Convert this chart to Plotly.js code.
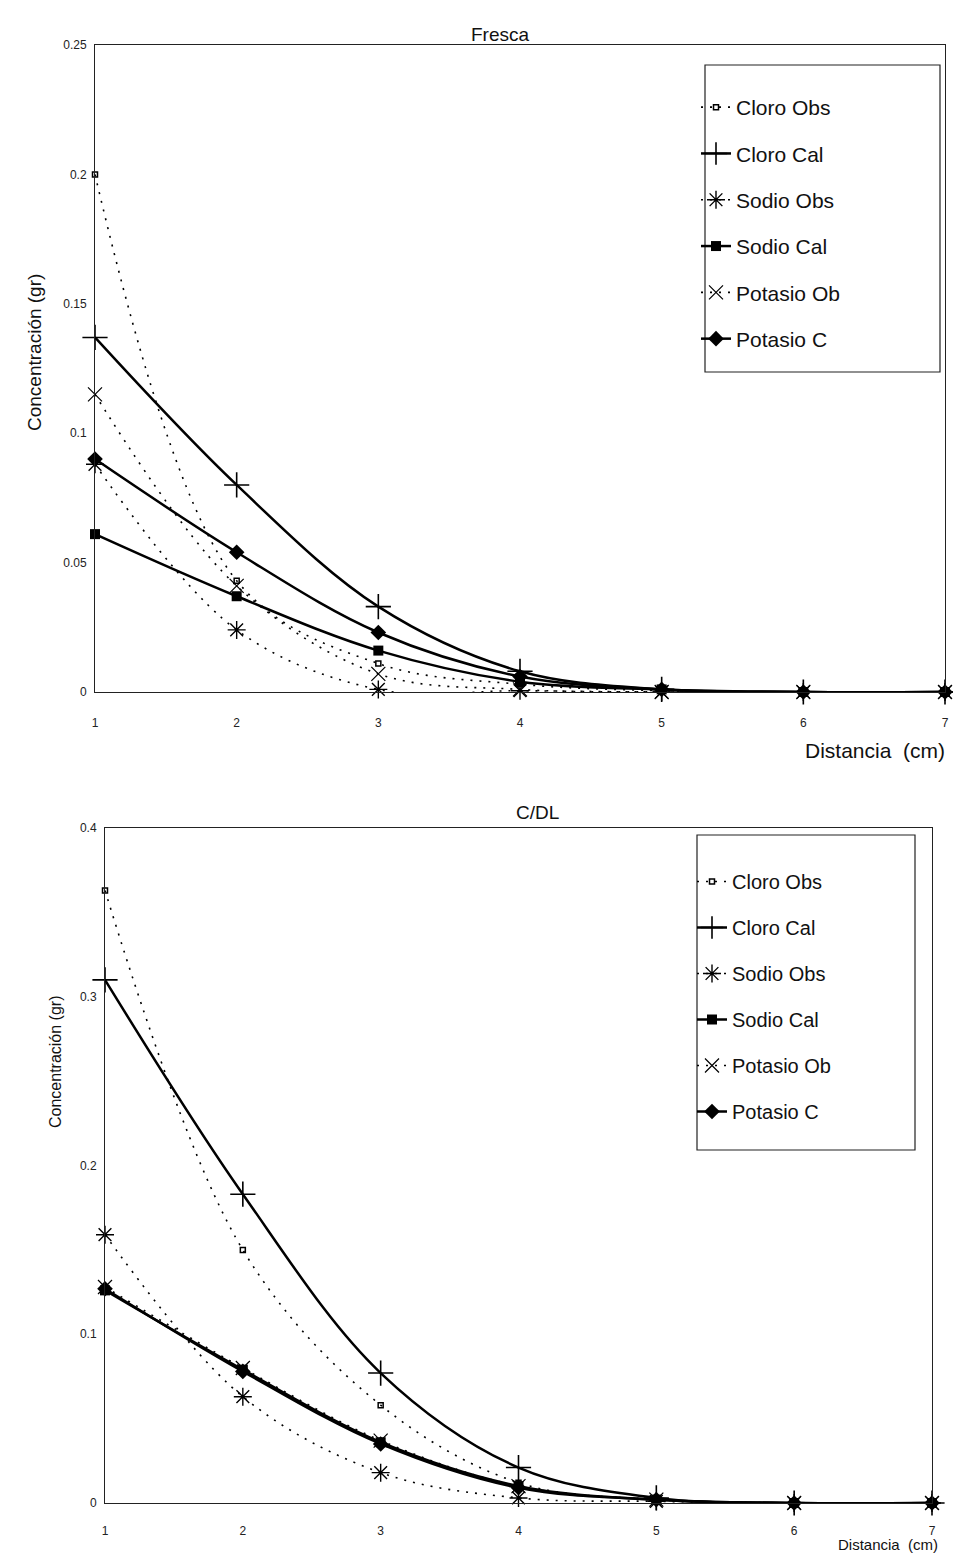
<!DOCTYPE html>
<html>
<head>
<meta charset="utf-8">
<script src="https://cdn.plot.ly/plotly-3.0.1.min.js"></script>
<style>html,body{margin:0;padding:0;background:#fff;}#chart{width:953px;height:1568px;}</style>
</head>
<body>
<div id="chart"></div>
<script>
// ---- data ----
const distancia = [1, 2, 3, 4, 5, 6, 7];
const seriesNames = ['Cloro Obs', 'Cloro Cal', 'Sodio Obs', 'Sodio Cal', 'Potasio Ob', 'Potasio C'];

// Fresca
const frescaCloroObs  = [0.200, 0.043, 0.011, 0.003, 0.0005, 0, 0];
const frescaCloroCal  = [0.137, 0.080, 0.033, 0.008, 0.001, 0, 0];
const frescaSodioObs  = [0.088, 0.024, 0.001, 0.0005, 0, 0, 0];
const frescaSodioCal  = [0.061, 0.037, 0.016, 0.004, 0.001, 0, 0];
const frescaPotasioOb = [0.115, 0.041, 0.007, 0.001, 0, 0, 0];
const frescaPotasioC  = [0.090, 0.054, 0.023, 0.006, 0.001, 0, 0];

// C/DL
const cdlCloroObs  = [0.363, 0.150, 0.058, 0.012, 0.002, 0, 0];
const cdlCloroCal  = [0.310, 0.183, 0.077, 0.021, 0.003, 0, 0];
const cdlSodioObs  = [0.159, 0.063, 0.018, 0.003, 0.001, 0, 0];
const cdlSodioCal  = [0.126, 0.079, 0.036, 0.010, 0.002, 0, 0];
const cdlPotasioOb = [0.128, 0.080, 0.037, 0.010, 0.002, 0, 0];
const cdlPotasioC  = [0.127, 0.078, 0.035, 0.009, 0.002, 0, 0];

const frescaYTicks = [0, 0.05, 0.1, 0.15, 0.2, 0.25];
const frescaYTickText = ['0', '0.05', '0.1', '0.15', '0.2', '0.25'];
const cdlYTicks = [0, 0.1, 0.2, 0.3, 0.4];
const cdlYTickText = ['0', '0.1', '0.2', '0.3', '0.4'];

// ---- styles ----
const DOT = '2px,7px';
const styles = [
  {dash: DOT, width: 1.6, symbol: 'square-open', size: 5, mlw: 1.5},
  {dash: 'solid', width: 2.5, symbol: 'cross-thin-open', size: 18, mlw: 1.6},
  {dash: DOT, width: 1.6, symbol: 'asterisk-open', size: 15, mlw: 1.4},
  {dash: 'solid', width: 2.5, symbol: 'square', size: 10, mlw: 0},
  {dash: DOT, width: 1.6, symbol: 'x-thin-open', size: 14, mlw: 1.2},
  {dash: 'solid', width: 2.5, symbol: 'diamond', size: 12, mlw: 0}
];

function makeTraces(seriesList, xa, ya, legendId, groupPrefix) {
  return seriesList.map((vals, i) => {
    const s = styles[i];
    return {
      type: 'scatter', mode: 'lines+markers',
      x: distancia, y: vals, name: seriesNames[i],
      xaxis: xa, yaxis: ya, legend: legendId,
      legendgroup: groupPrefix + i,
      cliponaxis: false,
      line: {color: '#000', width: s.width, dash: s.dash, shape: 'spline', smoothing: 1},
      marker: {symbol: s.symbol, size: s.size, color: '#000',
               line: {color: '#000', width: s.mlw}}
    };
  });
}

const traces = [].concat(
  makeTraces([frescaCloroObs, frescaCloroCal, frescaSodioObs, frescaSodioCal, frescaPotasioOb, frescaPotasioC], 'x', 'y', 'legend', 'f'),
  makeTraces([cdlCloroObs, cdlCloroCal, cdlSodioObs, cdlSodioCal, cdlPotasioOb, cdlPotasioC], 'x2', 'y2', 'legend2', 'c')
);

const W = 953, H = 1568;
const px = v => v / W;
const py = v => 1 - v / H;
const FONT = 'Liberation Sans, Arial, sans-serif';

const axisCommon = {
  showline: true, mirror: true, linecolor: '#222', linewidth: 1,
  showgrid: false, zeroline: false, ticks: '',
  tickfont: {family: FONT, size: 12, color: '#222'}
};

const layout = {
  width: W, height: H,
  margin: {l: 0, r: 0, t: 0, b: 0},
  paper_bgcolor: '#fff', plot_bgcolor: '#fff',
  font: {family: FONT, color: '#111'},
  showlegend: true,
  xaxis: Object.assign({}, axisCommon, {domain: [px(95), px(945)], range: [1, 7], tickvals: distancia,
    anchor: 'y', ticklabelstandoff: 20}),
  yaxis: Object.assign({}, axisCommon, {domain: [py(692), py(45)], range: [0, 0.25],
    tickvals: frescaYTicks, ticktext: frescaYTickText, anchor: 'x', ticklabelstandoff: 5}),
  xaxis2: Object.assign({}, axisCommon, {domain: [px(105), px(932)], range: [1, 7], tickvals: distancia,
    anchor: 'y2', ticklabelstandoff: 17}),
  yaxis2: Object.assign({}, axisCommon, {domain: [py(1503), py(828)], range: [0, 0.4],
    tickvals: cdlYTicks, ticktext: cdlYTickText, anchor: 'x2', ticklabelstandoff: 5}),
  legend: {
    x: px(696), y: py(87), xanchor: 'left', yanchor: 'top',
    bgcolor: 'rgba(0,0,0,0)', borderwidth: 0,
    font: {family: FONT, size: 21, color: '#111'},
    traceorder: 'grouped', tracegroupgap: 16, itemwidth: 30
  },
  legend2: {
    x: px(692), y: py(862), xanchor: 'left', yanchor: 'top',
    bgcolor: 'rgba(0,0,0,0)', borderwidth: 0,
    font: {family: FONT, size: 20, color: '#111'},
    traceorder: 'grouped', tracegroupgap: 17, itemwidth: 30
  },
  shapes: [
    {type: 'rect', xref: 'paper', yref: 'paper', x0: px(705), x1: px(940), y0: py(372), y1: py(65),
     line: {color: '#222', width: 1.2}, fillcolor: 'rgba(0,0,0,0)'},
    {type: 'rect', xref: 'paper', yref: 'paper', x0: px(697), x1: px(915), y0: py(1150), y1: py(835),
     line: {color: '#222', width: 1.2}, fillcolor: 'rgba(0,0,0,0)'}
  ],
  annotations: [
    {text: 'Fresca', xref: 'paper', yref: 'paper', x: px(500), y: py(22), showarrow: false,
     font: {family: FONT, size: 19, color: '#111'}},
    {text: 'C/DL', xref: 'paper', yref: 'paper', x: px(537), y: py(812), showarrow: false,
     font: {family: FONT, size: 19, color: '#111'}},
    {text: 'Distancia  (cm)', xref: 'paper', yref: 'paper', x: px(947), y: py(750), xanchor: 'right',
     showarrow: false, font: {family: FONT, size: 21, color: '#111'}},
    {text: 'Distancia  (cm)', xref: 'paper', yref: 'paper', x: px(940), y: py(1555), xanchor: 'right',
     showarrow: false, font: {family: FONT, size: 15, color: '#111'}},
    {text: 'Concentración (gr)', xref: 'paper', yref: 'paper', x: px(22), y: py(272), textangle: -90,
     showarrow: false, font: {family: FONT, size: 19, color: '#111'}},
    {text: 'Concentración (gr)', xref: 'paper', yref: 'paper', x: px(45), y: py(1130), textangle: -90,
     showarrow: false, font: {family: FONT, size: 16, color: '#111'}}
  ]
};

Plotly.newPlot('chart', traces, layout, {displayModeBar: false, staticPlot: true});
</script>
</body>
</html>
